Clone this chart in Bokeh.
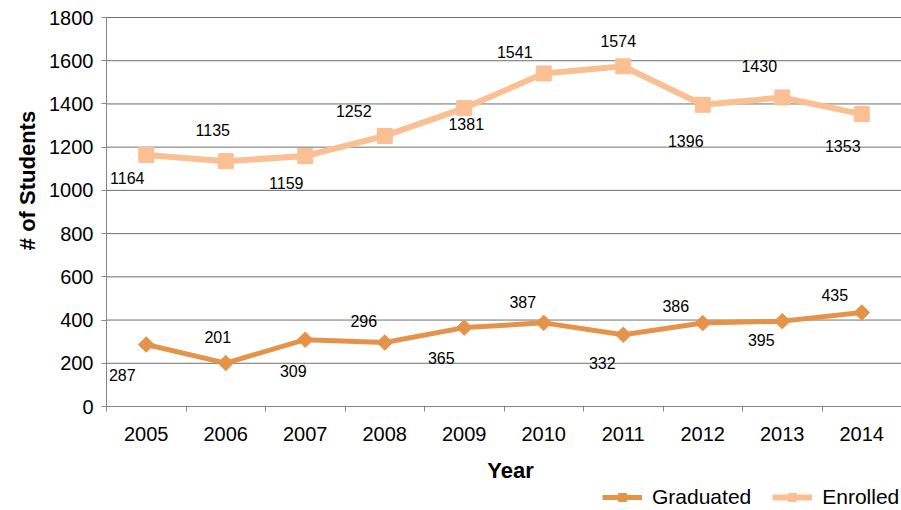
from bokeh.plotting import figure
from bokeh.models import (ColumnDataSource, FixedTicker, Legend, LegendItem, Label, Range1d)
from bokeh.core.properties import value
from bokeh.embed import file_html
from bokeh.resources import INLINE
import math

years = [2005, 2006, 2007, 2008, 2009, 2010, 2011, 2012, 2013, 2014]
graduated = [287, 201, 309, 296, 365, 387, 332, 386, 395, 435]
enrolled = [1164, 1135, 1159, 1252, 1381, 1541, 1574, 1396, 1430, 1353]
y_ticks = [0, 200, 400, 600, 800, 1000, 1200, 1400, 1600, 1800]

# label offsets (screen px) mimicking the original data-label placement
grad_dx = [-24, -8, -12, -21, -23, -21, -21, -27, -21, -27]
grad_dy = [31, -26, 31, -22, 30, -21, 28, -17, 19, -17]
enr_dx = [-19, -13, -19, -31, 2, -29, -5, -17, -23, -19]
enr_dy = [23, -31, 27, -25, 16, -21, -25, 36, -31, 32]

FONT = "Liberation Sans"
GRAD_C = "#E6934A"
ENR_C = "#FAC094"
GRID_C = "#6f6f6f"
AXIS_C = "#868686"

W, H = 901, 510
L, R, T, B = 106, 901, 17, 406          # plot area in pixels
x0, x1 = years[0] - 0.5, years[-1] + 0.5
ymin, ymax = 0, 1800
xpp = (x1 - x0) / (R - L)
ypp = (ymax - ymin) / (B - T)

p = figure(width=W, height=H, output_backend="svg", toolbar_location=None,
           x_range=Range1d(x0 - L * xpp, x1 + (W - R) * xpp),
           y_range=Range1d(ymin - (H - B) * ypp, ymax + T * ypp),
           min_border=0)
p.outline_line_color = None
p.background_fill_color = "white"
p.border_fill_color = "white"
p.xgrid.visible = False
p.ygrid.visible = False

# x axis
p.xaxis.fixed_location = ymin
p.xaxis.bounds = (x0, x1)
p.xaxis.ticker = FixedTicker(ticks=years, minor_ticks=[y - 0.5 for y in years] + [x1])
p.xaxis.major_label_overrides = {y: str(y) for y in years}
p.xaxis.major_tick_out = 0
p.xaxis.major_tick_in = 0
p.xaxis.minor_tick_out = 5
p.xaxis.minor_tick_in = 0
p.xaxis.minor_tick_line_color = AXIS_C
p.xaxis.axis_line_color = AXIS_C
p.xaxis.major_label_standoff = 15
p.xaxis.major_label_text_font = FONT
p.xaxis.major_label_text_font_size = "20px"
p.xaxis.major_label_text_color = "black"

# y axis
p.yaxis.fixed_location = x0
p.yaxis.bounds = (ymin, ymax)
p.yaxis.ticker = FixedTicker(ticks=y_ticks, minor_ticks=[])
p.yaxis.major_tick_out = 5
p.yaxis.major_tick_in = 0
p.yaxis.major_tick_line_color = AXIS_C
p.yaxis.axis_line_color = AXIS_C
p.yaxis.major_label_standoff = 8
p.yaxis.major_label_text_font = FONT
p.yaxis.major_label_text_font_size = "20px"
p.yaxis.major_label_text_color = "black"

# horizontal gridlines
grid_src = ColumnDataSource(dict(y=[t for t in y_ticks if t > ymin]))
p.segment(x0=x0, x1=x1, y0="y", y1="y", source=grid_src, line_color=GRID_C, line_width=1)

src = ColumnDataSource(dict(year=years, grad=graduated, enr=enrolled,
                            grad_lbl=[str(v) for v in graduated],
                            enr_lbl=[str(v) for v in enrolled],
                            gdx=grad_dx, gdy=grad_dy, edx=enr_dx, edy=enr_dy))

g_line = p.line("year", "grad", source=src, line_color=GRAD_C, line_width=5)
g_mark = p.scatter("year", "grad", source=src, marker="square", angle=math.pi / 4,
                   size=11, fill_color=GRAD_C, line_color=GRAD_C)
e_line = p.line("year", "enr", source=src, line_color=ENR_C, line_width=6)
e_mark = p.scatter("year", "enr", source=src, marker="square", size=15,
                   fill_color=ENR_C, line_color=ENR_C)

p.text("year", "grad", text="grad_lbl", source=src, x_offset="gdx", y_offset="gdy",
       text_align="center", text_baseline="middle", text_font=value(FONT),
       text_font_size="16px", text_color="black")
p.text("year", "enr", text="enr_lbl", source=src, x_offset="edx", y_offset="edy",
       text_align="center", text_baseline="middle", text_font=value(FONT),
       text_font_size="16px", text_color="black")

# axis titles
p.add_layout(Label(x=27, y=H - 180, x_units="screen", y_units="screen", text="# of Students",
                   angle=math.pi / 2, text_align="center", text_baseline="middle",
                   text_font=FONT, text_font_size="22px", text_font_style="bold",
                   text_color="black"))
p.add_layout(Label(x=510, y=H - 470, x_units="screen", y_units="screen", text="Year",
                   text_align="center", text_baseline="middle",
                   text_font=FONT, text_font_size="22px", text_font_style="bold",
                   text_color="black"))

legend = Legend(items=[LegendItem(label="Graduated", renderers=[g_line, g_mark]),
                       LegendItem(label="Enrolled", renderers=[e_line, e_mark])],
                location=(602, 1), orientation="horizontal",
                label_text_font=FONT, label_text_font_size="21px",
                label_text_color="black", glyph_width=40, glyph_height=20,
                label_standoff=10, spacing=21, padding=0, margin=0,
                border_line_color=None, background_fill_alpha=0)
p.add_layout(legend)

open("out.html", "w").write(file_html(p, INLINE))
